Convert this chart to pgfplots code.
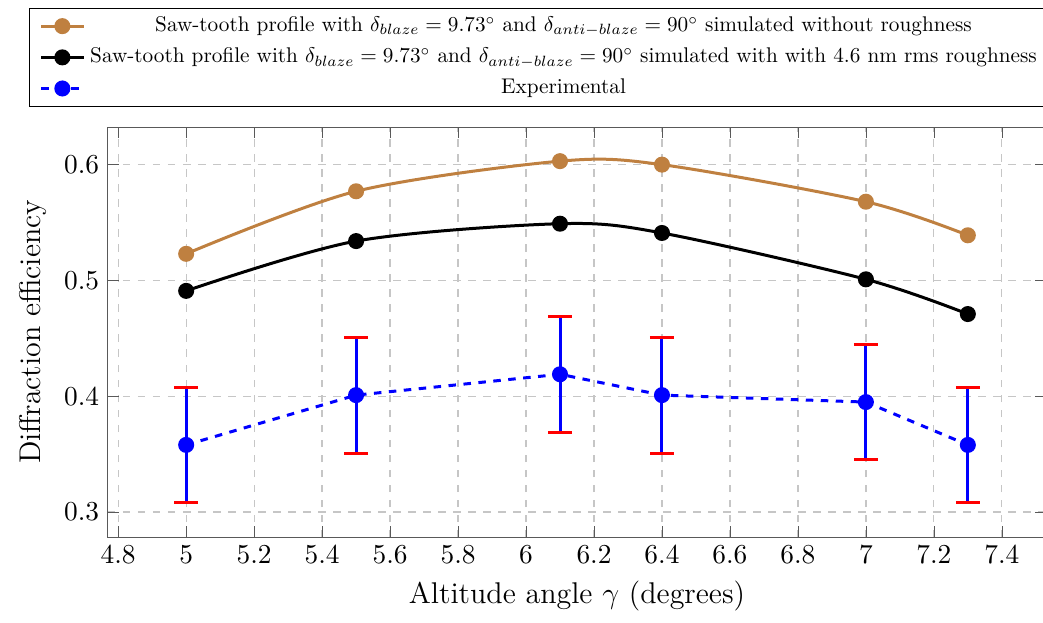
\documentclass[border=0pt]{standalone}
\usepackage{pgfplots}
\pgfplotsset{compat=1.18}
\definecolor{sawbrown}{RGB}{191,128,64}
\newcommand{\leg}[1]{\scalebox{0.85}{#1}}
\begin{document}
\begin{tikzpicture}
\begin{axis}[
  at={(0,0)}, anchor=south west,
  scale only axis, width=375.2pt, height=164pt,
  xmin=4.77, xmax=7.53, ymin=0.2785, ymax=0.6325,
  xtick={4.8,5,5.2,5.4,5.6,5.8,6,6.2,6.4,6.6,6.8,7,7.2,7.4},
  ytick={0.3,0.4,0.5,0.6},
  grid=major, grid style={dashed, gray!45, line width=0.5pt},
  axis line style={gray!70!black},
  tick style={gray!70!black},
  xlabel={Altitude angle $\gamma$ (degrees)},
  ylabel={Diffraction efficiency},
  label style={font=\fontsize{12}{14}\selectfont},
  tick label style={font=\fontsize{11}{13}\selectfont},
  legend style={at={(-0.0842,1.0488)}, anchor=south west,
    font=\fontsize{10}{12}\selectfont, draw=black, row sep=1pt,
    inner ysep=1.5pt, inner xsep=4pt},
  legend cell align=center,
]
\addplot[sawbrown, line width=1.2pt, smooth, mark=*, mark size=2.6pt, mark options={fill=sawbrown, draw=sawbrown}]
  coordinates {(5,0.523) (5.5,0.577) (6.1,0.603) (6.4,0.600) (7,0.568) (7.3,0.539)};
\addlegendentry{\leg{Saw-tooth profile with $\delta_{blaze}=9.73^\circ$ and $\delta_{anti-blaze}=90^\circ$ simulated without roughness}}
\addplot[black, line width=1.2pt, smooth, mark=*, mark size=2.6pt, mark options={fill=black}]
  coordinates {(5,0.491) (5.5,0.534) (6.1,0.549) (6.4,0.541) (7,0.501) (7.3,0.471)};
\addlegendentry{\leg{Saw-tooth profile with $\delta_{blaze}=9.73^\circ$ and $\delta_{anti-blaze}=90^\circ$ simulated with with 4.6 nm rms roughness}}
\addplot[blue, line width=1.2pt, dashed, mark=*, mark size=2.6pt, mark options={solid, fill=blue},
  error bars/.cd, y dir=both, y explicit,
  error bar style={blue, line width=1.2pt, solid},
  error mark options={red, line width=1.2pt, mark size=4.8pt, rotate=90, solid}]
  coordinates {(5,0.358) +- (0,0.05) (5.5,0.401) +- (0,0.05) (6.1,0.419) +- (0,0.05)
               (6.4,0.401) +- (0,0.05) (7,0.395) +- (0,0.05) (7.3,0.358) +- (0,0.05)};
\addlegendentry{\leg{Experimental}}
\end{axis}
\pgfresetboundingbox
\useasboundingbox (-43.2pt,-34pt) rectangle (374pt,214.8pt);
\end{tikzpicture}
\end{document}
